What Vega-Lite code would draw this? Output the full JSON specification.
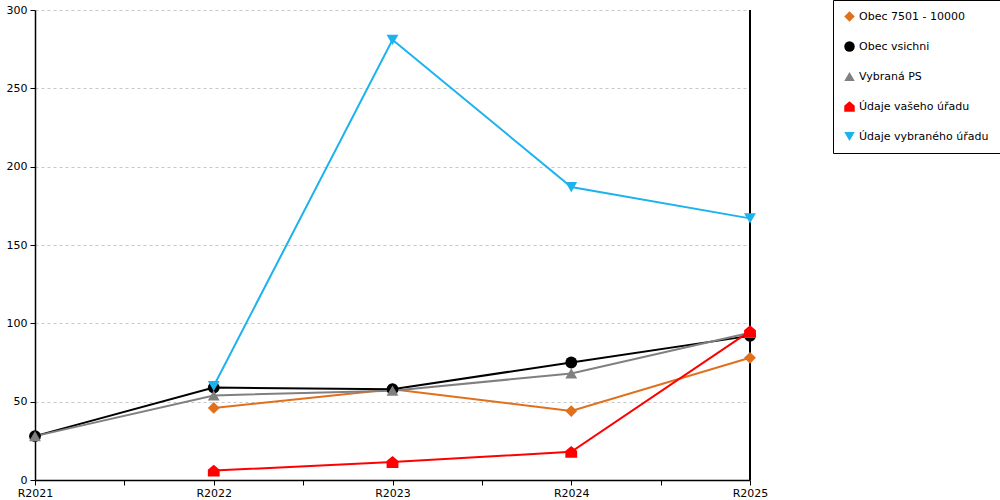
{
  "$schema": "https://vega.github.io/schema/vega-lite/v6.json",
  "autosize": "none",
  "width": 715,
  "height": 470,
  "padding": {"left": 35, "top": 10, "right": 250, "bottom": 20},
  "background": "white",
  "data": {
    "values": [
      {"rada": "Obec 7501 - 10000", "rok": 2022, "hodnota": 46},
      {"rada": "Obec 7501 - 10000", "rok": 2023, "hodnota": 58},
      {"rada": "Obec 7501 - 10000", "rok": 2024, "hodnota": 44},
      {"rada": "Obec 7501 - 10000", "rok": 2025, "hodnota": 78},
      {"rada": "Obec vsichni", "rok": 2021, "hodnota": 28},
      {"rada": "Obec vsichni", "rok": 2022, "hodnota": 59},
      {"rada": "Obec vsichni", "rok": 2023, "hodnota": 58},
      {"rada": "Obec vsichni", "rok": 2024, "hodnota": 75},
      {"rada": "Obec vsichni", "rok": 2025, "hodnota": 92},
      {"rada": "Vybraná PS", "rok": 2021, "hodnota": 28},
      {"rada": "Vybraná PS", "rok": 2022, "hodnota": 54},
      {"rada": "Vybraná PS", "rok": 2023, "hodnota": 57},
      {"rada": "Vybraná PS", "rok": 2024, "hodnota": 68},
      {"rada": "Vybraná PS", "rok": 2025, "hodnota": 94},
      {"rada": "Údaje vašeho úřadu", "rok": 2022, "hodnota": 6},
      {"rada": "Údaje vašeho úřadu", "rok": 2023, "hodnota": 11.5},
      {"rada": "Údaje vašeho úřadu", "rok": 2024, "hodnota": 18},
      {"rada": "Údaje vašeho úřadu", "rok": 2025, "hodnota": 95},
      {"rada": "Údaje vybraného úřadu", "rok": 2022, "hodnota": 60},
      {"rada": "Údaje vybraného úřadu", "rok": 2023, "hodnota": 281},
      {"rada": "Údaje vybraného úřadu", "rok": 2024, "hodnota": 187},
      {"rada": "Údaje vybraného úřadu", "rok": 2025, "hodnota": 167}
    ]
  },
  "encoding": {
    "x": {
      "field": "rok",
      "type": "quantitative",
      "scale": {"domain": [2021, 2025], "nice": false, "zero": false},
      "axis": {
        "title": null,
        "grid": false,
        "values": [2021, 2021.5, 2022, 2022.5, 2023, 2023.5, 2024, 2024.5, 2025],
        "labelExpr": "datum.value % 1 === 0 ? 'R' + datum.value : ''",
        "labelFlush": false,
        "labelOverlap": false,
        "labelBound": false,
        "tickSize": 5,
        "labelPadding": 2
      }
    },
    "y": {
      "field": "hodnota",
      "type": "quantitative",
      "scale": {"domain": [0, 300], "nice": false},
      "axis": {
        "title": null,
        "values": [0, 50, 100, 150, 200, 250, 300],
        "grid": true,
        "gridDash": [3, 3],
        "gridColor": "#c8c8c8",
        "tickSize": 5,
        "labelPadding": 3
      }
    }
  },
  "layer": [
    {
      "mark": {"type": "rule", "color": "black", "strokeWidth": 1.5},
      "encoding": {"x": {"datum": 2025}, "y": null}
    },
    {
      "mark": {"type": "line", "strokeWidth": 2},
      "encoding": {
        "color": {
          "field": "rada",
          "type": "nominal",
          "scale": {
            "domain": ["Obec 7501 - 10000", "Obec vsichni", "Vybraná PS", "Údaje vašeho úřadu", "Údaje vybraného úřadu"],
            "range": ["#e0701c", "#000000", "#808080", "#ff0000", "#1cb2ee"]
          },
          "legend": {"title": null}
        }
      }
    },
    {
      "mark": {"type": "point", "filled": true, "opacity": 1, "size": 140},
      "encoding": {
        "shape": {
          "field": "rada",
          "type": "nominal",
          "scale": {
            "domain": ["Obec 7501 - 10000", "Obec vsichni", "Vybraná PS", "Údaje vašeho úřadu", "Údaje vybraného úřadu"],
            "range": ["diamond", "circle", "triangle-up", "M-1,1L1,1L1,-0.15L0,-1L-1,-0.15Z", "triangle-down"]
          },
          "legend": {"title": null}
        },
        "color": {
          "field": "rada",
          "type": "nominal",
          "legend": {"title": null}
        }
      }
    }
  ],
  "config": {
    "font": "DejaVu Sans",
    "view": {"stroke": null},
    "axis": {
      "labelFont": "DejaVu Sans",
      "labelFontSize": 11,
      "labelColor": "black",
      "domainColor": "black",
      "tickColor": "black",
      "domainWidth": 1.5
    },
    "legend": {
      "orient": "none",
      "legendX": 798,
      "legendY": -10,
      "strokeColor": "black",
      "fillColor": "white",
      "padding": 11,
      "rowPadding": 18,
      "labelFont": "DejaVu Sans",
      "labelFontSize": 11,
      "labelColor": "black",
      "symbolSize": 110,
      "symbolStrokeWidth": 0,
      "labelOffset": 4
    }
  }
}
